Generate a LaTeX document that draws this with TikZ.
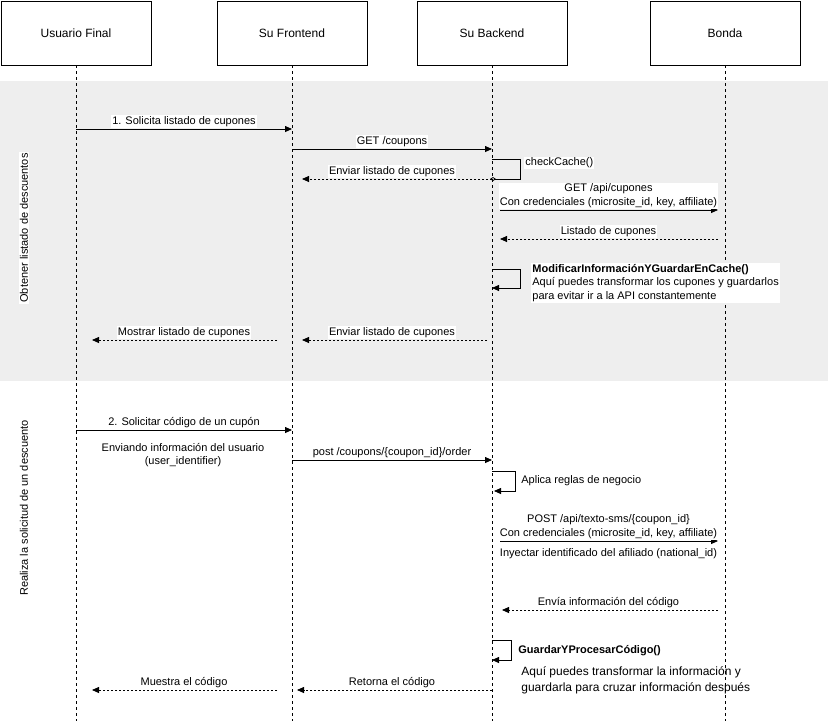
\documentclass[tikz,border=0pt]{standalone}
\usepackage{fontspec}
\setmainfont{Liberation Sans}
\usetikzlibrary{arrows.meta}

\definecolor{band}{HTML}{EEEEEE}

\begin{document}
\begin{tikzpicture}[x=1pt,y=-1pt,line width=0.8pt,
 actor/.style={draw,minimum width=150pt,minimum height=64pt,font=\fontsize{12}{14}\selectfont},
 life/.style={dash pattern=on 3pt off 3pt,line width=0.6pt},
 call/.style={-{Triangle[length=7pt,width=6pt]}},
 reply/.style={call,dash pattern=on 2pt off 2pt},
 txt/.style={font=\fontsize{11}{13.5}\selectfont,inner sep=1pt},
 lbl/.style={txt,fill=white}]

\useasboundingbox (0,0) rectangle (828,721);
\fill[band] (0,81) rectangle (828,381);

%actors
\node[actor] (usr) at (76,33) {Usuario Final};
\node[actor] (fe) at (292,33) {Su Frontend};
\node[actor] (be) at (492,33) {Su Backend};
\node[actor] (bo) at (725,33) {Bonda};
\foreach \n in {usr,fe,be,bo} \draw[life] (\n.south) -- (\n.south |- 0,721);

%sections
\node[lbl,rotate=90] (s1) at (24,228) {Obtener listado de descuentos};
\node[txt,rotate=90] (s2) at (24,508) {Realiza la solicitud de un descuento};

%listado
\draw[call] (usr |- 0,129) -- node[lbl,above=1pt] (m1) {1. Solicita listado de cupones} (fe |- 0,129);
\draw[call] (fe |- 0,149) -- node[lbl,above=1pt] (m2) {GET /coupons} (be |- 0,149);
\draw[-{Diamond[open,length=6pt,width=4pt]}] (be |- 0,159) -- ++(28,0) -- ++(0,20) -- ++(-30,0);
\node[lbl,anchor=west] (m3) at (524,163) {checkCache()};
\draw[reply,shorten >=10pt] (be |- 0,179) -- node[lbl,above=1pt] (m4) {Enviar listado de cupones} (fe |- 0,179);
\draw[call,shorten <=8pt,shorten >=7pt] (be |- 0,210) -- node[lbl,above=1pt,align=center] (m5)
 {GET /api/cupones\\Con credenciales (microsite\_id, key, affiliate)} (bo |- 0,210);
\draw[reply,shorten <=7pt,shorten >=8pt] (bo |- 0,239) -- node[lbl,above=1pt] (m6) {Listado de cupones} (be |- 0,239);
\draw[call] (be |- 0,269) -- ++(28,0) -- ++(0,19) -- ++(-28,0);
\node[lbl,anchor=north west,align=left] (m7) at (531,263)
 {\bfseries ModificarInformaciónYGuardarEnCache()\\Aquí puedes transformar los cupones y guardarlos\\para evitar ir a la API constantemente};
\draw[reply,shorten <=15pt,shorten >=16pt] (fe |- 0,340) -- node[lbl,above=1pt] (m8) {Mostrar listado de cupones} (usr |- 0,340);
\draw[reply,shorten <=5pt,shorten >=10pt] (be |- 0,340) -- node[lbl,above=1pt] (m9) {Enviar listado de cupones} (fe |- 0,340);

%solicitud
\draw[call] (usr |- 0,430) -- node[lbl,above=1pt] (n1) {2. Solicitar código de un cupón} (fe |- 0,430);
\node[txt,align=center] (n2) at (183,455) {Enviando información del usuario\\(user\_identifier)};
\draw[call] (fe |- 0,460) -- node[lbl,above=1pt] (n3) {post /coupons/\{coupon\_id\}/order} (be |- 0,460);
\draw[call] (be |- 0,471) -- ++(23,0) -- ++(0,20) -- ++(-21,0);
\node[txt,anchor=west] (n4) at (520,481) {Aplica reglas de negocio};
\draw[call,shorten <=8pt,shorten >=7pt] (be |- 0,541) -- node[lbl,above=1pt,align=center] (n5)
 {POST /api/texto-sms/\{coupon\_id\}\\Con credenciales (microsite\_id, key, affiliate)}
 node[txt,below=6pt] (n6) {Inyectar identificado del afiliado (national\_id)} (bo |- 0,541);
\draw[reply,shorten <=7pt,shorten >=10pt] (bo |- 0,610) -- node[lbl,above=1pt] (n7) {Envía información del código} (be |- 0,610);
\draw[call] (be |- 0,640) -- ++(19,0) -- ++(0,20) -- ++(-19,0);
\node[txt,anchor=west,font=\bfseries\fontsize{11}{13}\selectfont] (n8) at (517,651) {GuardarYProcesarCódigo()};
\node[txt,anchor=north west,align=left,font=\fontsize{12}{16}\selectfont] (n9) at (520,665)
 {Aquí puedes transformar la información y\\guardarla para cruzar información después};
\draw[reply,shorten <=15pt,shorten >=16pt] (fe |- 0,690) -- node[lbl,above=1pt] (n10) {Muestra el código} (usr |- 0,690);
\draw[reply,shorten >=5pt] (be |- 0,690) -- node[lbl,above=1pt] (n11) {Retorna el código} (fe |- 0,690);

\end{tikzpicture}
\end{document}
